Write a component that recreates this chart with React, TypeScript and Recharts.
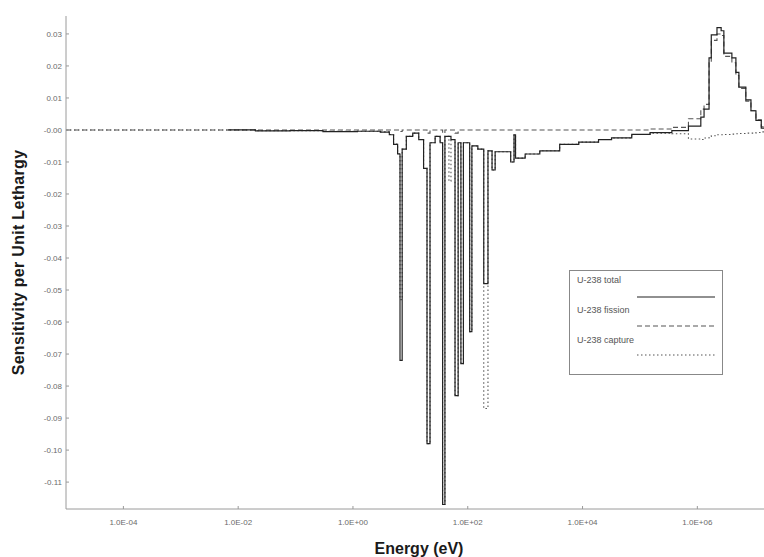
import { LineChart, Line, XAxis, YAxis, Legend } from 'recharts'

// energy grid (eV), shared by all three series
const ENERGY = [
  1e-5, 0.0067, 0.02, 0.08, 0.3, 1.2, 3.0, 4.3, 5.1, 6.0,
  6.6, 7.2, 8.5, 11, 14, 17, 19.5, 22, 27, 33,
  36.5, 40, 47, 51, 60, 68, 76, 84, 108, 118,
  150, 190, 225, 265, 300, 560, 640, 680, 1000, 1800,
  4000, 8600, 19000, 32000, 72000, 150000, 360000, 700000, 1.15e6, 1.31e6,
  1.6e6, 1.75e6, 2.2e6, 2.6e6, 2.9e6, 4.0e6, 4.7e6, 5.3e6, 7.0e6, 8.6e6,
  1.05e7, 1.3e7, 2e7,
]

const TOTAL = [
  null, 0, -0.0003, -0.0002, -0.0005, -0.0004, -0.0007, -0.0015, -0.0045, -0.0075,
  -0.072, -0.006, -0.002, -0.001, -0.003, -0.012, -0.098, -0.004, -0.002, -0.004,
  -0.117, -0.002, -0.002, -0.003, -0.083, -0.004, -0.073, -0.004, -0.063, -0.005,
  -0.006, -0.048, -0.0065, -0.0125, -0.0068, -0.01, -0.0015, -0.0088, -0.0075, -0.0065,
  -0.0045, -0.0038, -0.003, -0.0025, -0.0014, -0.0008, -0.0002, 0.0012, 0.004, 0.0065,
  0.0225, 0.0297, 0.032, 0.031, 0.024, 0.0225, 0.018, 0.0134, 0.0094, 0.006,
  0.003, 0.0006, 0,
]

const FISSION = [
  0, 0, 0, 0, 0, 0, 0, 0, 0, 0,
  -0.0005, 0, 0, 0, 0, 0, -0.001, 0, 0, 0,
  -0.001, 0, 0, 0, -0.001, 0, 0, 0, 0, 0,
  0, 0, 0, 0, 0, 0, 0, 0, 0, 0,
  0, 0, 0, 0, 0, 0.0003, 0.0008, 0.0035, 0.0065, 0.008,
  0.021, 0.028, 0.03, 0.0295, 0.023, 0.021, 0.017, 0.013, 0.009, 0.006,
  0.0032, 0.001, 0,
]

const CAPTURE = [
  0, 0, -0.0002, -0.0002, -0.0004, -0.0004, -0.0006, -0.0014, -0.0044, -0.0074,
  -0.053, -0.006, -0.002, -0.001, -0.003, -0.012, -0.098, -0.004, -0.002, -0.004,
  -0.117, -0.002, -0.016, -0.003, -0.083, -0.004, -0.073, -0.004, -0.063, -0.005,
  -0.006, -0.087, -0.0065, -0.0125, -0.0068, -0.01, -0.0015, -0.0088, -0.0075, -0.0065,
  -0.0045, -0.0038, -0.003, -0.0025, -0.0014, -0.001, -0.0012, -0.0028, -0.003, -0.0025,
  -0.002, -0.0018, -0.0015, -0.0015, -0.0014, -0.0013, -0.0012, -0.0011, -0.001, -0.001,
  -0.0008, -0.0006, -0.0005,
]

const X_TICKS = [1e-4, 1e-2, 1, 1e2, 1e4, 1e6]
const Y_TICKS = [0.03, 0.02, 0.01, 0, -0.01, -0.02, -0.03, -0.04, -0.05, -0.06, -0.07, -0.08, -0.09, -0.1, -0.11]

const SERIES = [
  { key: 'total', name: 'U-238 total' },
  { key: 'fission', name: 'U-238 fission' },
  { key: 'capture', name: 'U-238 capture' },
]

const data = ENERGY.map((e, i) => ({
  e,
  total: TOTAL[i],
  fission: FISSION[i],
  capture: CAPTURE[i],
}))

const FONT = '"Liberation Sans", Arial, sans-serif'
const TICK_COLOR = '#6a6a6a'
const FRAME = '#9a9a9a'

const fmtX = (v: number) => {
  const p = Math.round(Math.log10(v))
  return '1.0E' + (p < 0 ? '-' : '+') + String(Math.abs(p)).padStart(2, '0')
}
const fmtY = (v: number) => (v === 0 ? '-0.00' : v.toFixed(2))

const XTick = (props: any) => {
  const { x, y, payload } = props
  return (
    <g>
      <line x1={x} x2={x} y1={y - 9} y2={y - 12} stroke={FRAME} />
      <text x={x} y={y + 7} textAnchor="middle" fontSize={8} fill={TICK_COLOR} fontFamily={FONT}>
        {fmtX(payload.value)}
      </text>
    </g>
  )
}

const YTick = (props: any) => {
  const { x, y, payload } = props
  return (
    <g>
      <line x1={x + 4} x2={x + 7} y1={y} y2={y} stroke={FRAME} />
      <text x={x} y={y + 3} textAnchor="end" fontSize={8} fill={TICK_COLOR} fontFamily={FONT}>
        {fmtY(payload.value)}
      </text>
    </g>
  )
}

const LegendBox = () => {
  const dash = ['', '5 3', '1.5 2.5']
  return (
    <svg width={154} height={105}>
      <rect x={0.5} y={0.5} width={153} height={104} fill="#fff" stroke="#888" />
      {SERIES.map((s, i) => (
        <g key={s.key}>
          <text x={8} y={13 + i * 30} fontSize={9} fill="#555" fontFamily={FONT}>
            {s.name}
          </text>
          <line
            x1={68}
            x2={146}
            y1={27 + i * 29}
            y2={27 + i * 29}
            stroke={i === 0 ? '#222' : '#555'}
            strokeWidth={1.2}
            strokeDasharray={dash[i]}
          />
        </g>
      ))}
    </svg>
  )
}

export default function App() {
  return (
    <div style={{ position: 'absolute', left: 0, top: 0, width: 764, height: 557, overflow: 'hidden', background: '#fff' }}>
      <LineChart width={772} height={557} data={data} margin={{ top: 16, right: 0, bottom: 0, left: 8 }}>
        <XAxis
          dataKey="e"
          type="number"
          scale="log"
          domain={[1e-5, 2e7]}
          allowDataOverflow
          ticks={X_TICKS}
          tick={<XTick />}
          tickLine={false}
          tickSize={0}
          tickMargin={9}
          height={48}
          stroke={FRAME}
          label={{ value: 'Energy (eV)', position: 'insideBottom', offset: 3, fill: '#1a1a1a', fontSize: 16, fontWeight: 'bold', fontFamily: FONT }}
        />
        <XAxis
          xAxisId="top"
          orientation="top"
          dataKey="e"
          type="number"
          scale="log"
          domain={[1e-5, 2e7]}
          allowDataOverflow
          height={0}
          tick={false}
          tickLine={false}
          stroke={FRAME}
        />
        <YAxis
          type="number"
          domain={[-0.1184, 0.0356]}
          allowDataOverflow
          ticks={Y_TICKS}
          tick={<YTick />}
          tickLine={false}
          tickSize={0}
          tickMargin={4}
          width={58}
          stroke={FRAME}
          label={{
            value: 'Sensitivity per Unit Lethargy',
            angle: -90,
            position: 'insideLeft',
            offset: 10,
            fill: '#1a1a1a',
            fontSize: 16,
            fontWeight: 'bold',
            fontFamily: FONT,
            style: { textAnchor: 'middle', letterSpacing: '0.3px' },
          }}
        />
        <Legend
          layout="vertical"
          verticalAlign="middle"
          align="center"
          content={<LegendBox />}
          wrapperStyle={{ position: 'absolute', left: 569, top: 270, width: 154, height: 105 }}
        />
        <Line
          dataKey="capture"
          name="U-238 capture"
          type="stepAfter"
          stroke="#555"
          strokeWidth={1.1}
          strokeDasharray="1.5 2.5"
          dot={false}
          isAnimationActive={false}
        />
        <Line
          dataKey="fission"
          name="U-238 fission"
          type="stepAfter"
          stroke="#555"
          strokeWidth={1.1}
          strokeDasharray="5 3"
          dot={false}
          isAnimationActive={false}
        />
        <Line
          dataKey="total"
          name="U-238 total"
          type="stepAfter"
          stroke="#222"
          strokeWidth={1.2}
          dot={false}
          isAnimationActive={false}
        />
      </LineChart>
    </div>
  )
}
